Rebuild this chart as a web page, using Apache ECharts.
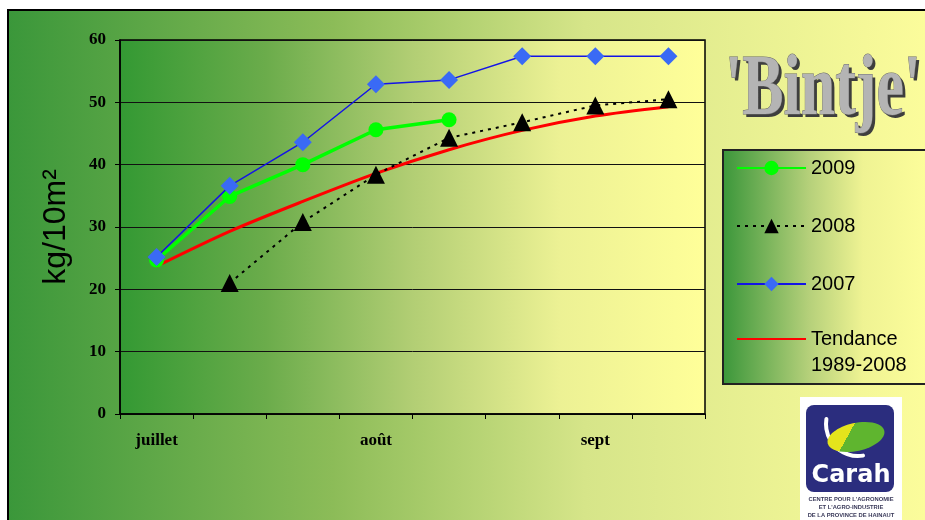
<!DOCTYPE html>
<html>
<head>
<meta charset="utf-8">
<script src="https://cdn.jsdelivr.net/npm/echarts@6/dist/echarts.min.js"></script>
<style>
html,body{margin:0;padding:0;background:#fff;}
#c{width:925px;height:520px;}
</style>
</head>
<body>
<div id="c"></div>
<script>
// ---- data ----
const categories = ['juillet', '', '', 'août', '', '', 'sept', ''];
const yTicks = [0, 10, 20, 30, 40, 50, 60];
const s2009 = [24.7, 34.9, 40.0, 45.6, 47.2, null, null, null];
const s2008 = [null, 21.0, 30.8, 38.4, 44.3, 46.8, 49.5, 50.5];
const s2007 = [25.2, 36.6, 43.6, 52.9, 53.6, 57.4, 57.4, 57.4];
const tendance = [23.7, 29.3, 34.1, 38.6, 42.4, 45.5, 47.8, 49.3];
const legendNames = ['2009', '2008', '2007', 'Tendance\n1989-2008'];

const G = echarts.graphic;
const chart = echarts.init(document.getElementById('c'), null, {renderer: 'canvas'});

const outerGrad = new G.LinearGradient(0, 0, 1, 0, [
  {offset: 0, color: '#3a973a'},
  {offset: 0.35, color: '#8cbc58'},
  {offset: 0.62, color: '#d6e589'},
  {offset: 1, color: '#fdfd9c'}
]);
const plotGrad = new G.LinearGradient(0, 0, 1, 0, [
  {offset: 0, color: '#339933'},
  {offset: 0.25, color: '#6bac4b'},
  {offset: 0.5, color: '#b2ce74'},
  {offset: 0.75, color: '#ecf194'},
  {offset: 1, color: '#ffff99'}
]);
const legendGrad = new G.LinearGradient(0, 0, 1, 0, [
  {offset: 0, color: '#3a963a'},
  {offset: 0.4, color: '#b5d07a'},
  {offset: 0.65, color: '#eff393'},
  {offset: 1, color: '#ffff9c'}
]);
const ovalGrad = new G.LinearGradient(0, 0, 0.55, 1, [
  {offset: 0, color: '#e4e41c'},
  {offset: 0.55, color: '#e4e41c'},
  {offset: 0.55, color: '#5fb52f'},
  {offset: 1, color: '#5fb52f'}
]);

const serif = "'Liberation Serif', 'Times New Roman', serif";
const sans = "'Liberation Sans', Arial, sans-serif";
const legendText = {fontFamily: sans, fontSize: 20, color: '#000'};
const titleFont = "bold 86px " + serif;

const option = {
  animation: false,
  backgroundColor: '#ffffff',
  graphic: [
    {type: 'rect', z: -10, shape: {x: 8, y: 10, width: 930, height: 520},
     style: {fill: outerGrad, stroke: '#000', lineWidth: 2}},
    {type: 'rect', z: -5, shape: {x: 723, y: 150, width: 215, height: 234},
     style: {fill: legendGrad, stroke: '#222', lineWidth: 2}},
    // title: dark extrusion layer + grey face
    {type: 'text', z: 5, x: 728, y: 95, scaleX: 0.72, scaleY: 1,
     style: {x: 0, y: 0, text: "'Bintje'", font: titleFont, fill: '#3e3e3e', verticalAlign: 'middle'}},
    {type: 'text', z: 6, x: 725, y: 92, scaleX: 0.72, scaleY: 1,
     style: {x: 0, y: 0, text: "'Bintje'", font: titleFont, fill: '#b4b4b4',
             stroke: '#6a6a6a', lineWidth: 1, verticalAlign: 'middle'}},
    // logo
    {type: 'rect', z: 5, shape: {x: 800, y: 397, width: 102, height: 130}, style: {fill: '#ffffff'}},
    {type: 'rect', z: 6, shape: {x: 806, y: 405, width: 88, height: 87, r: 8}, style: {fill: '#2b2d7e'}},
    {type: 'arc', z: 7, shape: {cx: 858, cy: 424, r: 32, startAngle: Math.PI * 0.45, endAngle: Math.PI * 1.05, clockwise: true},
     style: {stroke: '#ffffff', lineWidth: 4, fill: null, lineCap: 'round'}},
    {type: 'ellipse', z: 8, x: 856, y: 437, rotation: 0.22, shape: {cx: 0, cy: 0, rx: 29, ry: 14},
     style: {fill: ovalGrad}},
    {type: 'text', z: 8, x: 851, y: 476,
     style: {text: 'Carah', font: "bold 24px 'DejaVu Sans', sans-serif", fill: '#ffffff', align: 'center', verticalAlign: 'middle'}},
    {type: 'text', z: 8, x: 851, y: 499,
     style: {text: "CENTRE POUR L'AGRONOMIE", font: "bold 5.8px " + sans, fill: '#3a3a5a', align: 'center', verticalAlign: 'middle'}},
    {type: 'text', z: 8, x: 851, y: 507,
     style: {text: "ET L'AGRO-INDUSTRIE", font: "bold 5.8px " + sans, fill: '#3a3a5a', align: 'center', verticalAlign: 'middle'}},
    {type: 'text', z: 8, x: 851, y: 515,
     style: {text: "DE LA PROVINCE DE HAINAUT", font: "bold 5.8px " + sans, fill: '#3a3a5a', align: 'center', verticalAlign: 'middle'}}
  ],
  legend: [
    {
      orient: 'vertical',
      left: 731,
      top: 152,
      itemWidth: 69,
      itemHeight: 18,
      itemGap: 36,
      itemTextGap: 5,
      selectedMode: false,
      textStyle: Object.assign({lineHeight: 22}, legendText),
      data: [legendNames[0], legendNames[1], legendNames[2]]
    },
    {
      orient: 'vertical',
      left: 731,
      top: 295,
      itemWidth: 69,
      itemHeight: 18,
      itemTextGap: 5,
      selectedMode: false,
      textStyle: Object.assign({lineHeight: 26}, legendText),
      formatter: function (name) { return '\n' + name; },
      data: [legendNames[3]]
    }
  ],
  grid: {left: 120, top: 40, right: 220, bottom: 106, containLabel: false,
         show: true, backgroundColor: plotGrad, borderColor: '#000', borderWidth: 1.5},
  xAxis: {
    type: 'category',
    data: categories,
    boundaryGap: true,
    axisLine: {show: true, lineStyle: {color: '#000', width: 1.5}},
    axisTick: {show: true, interval: 0, length: 5, lineStyle: {color: '#000', width: 1}},
    axisLabel: {interval: 0, margin: 18, fontFamily: serif, fontWeight: 'bold', fontSize: 17, color: '#000'},
    splitLine: {show: false}
  },
  yAxis: {
    type: 'value',
    min: yTicks[0], max: yTicks[yTicks.length - 1], interval: 10,
    name: 'kg/10m²', nameLocation: 'middle', nameGap: 48,
    nameTextStyle: {fontFamily: sans, fontSize: 32, color: '#000'},
    axisLine: {show: true, lineStyle: {color: '#000', width: 1.5}},
    axisTick: {show: true, length: 5, lineStyle: {color: '#000'}},
    axisLabel: {margin: 14, fontFamily: serif, fontWeight: 'bold', fontSize: 17, color: '#000'},
    splitLine: {show: true, lineStyle: {color: '#111', width: 1}}
  },
  series: [
    {name: legendNames[3], type: 'line', data: tendance, symbol: 'none', smooth: 0.3,
     lineStyle: {color: '#ff0000', width: 3}, itemStyle: {color: 'rgba(0,0,0,0)'}, z: 2},
    {name: legendNames[1], type: 'line', data: s2008, symbol: 'triangle', symbolSize: [18, 18],
     lineStyle: {color: '#000', width: 2, type: [3, 5]}, itemStyle: {color: '#000'}, z: 3},
    {name: legendNames[0], type: 'line', data: s2009, symbol: 'circle', symbolSize: 15,
     lineStyle: {color: '#00ff00', width: 3.5}, itemStyle: {color: '#00ff00'}, z: 4},
    {name: legendNames[2], type: 'line', data: s2007, symbol: 'diamond', symbolSize: 18,
     lineStyle: {color: '#1414e6', width: 1.5}, itemStyle: {color: '#3a6af5'}, z: 5}
  ]
};
chart.setOption(option);
</script>
</body>
</html>
